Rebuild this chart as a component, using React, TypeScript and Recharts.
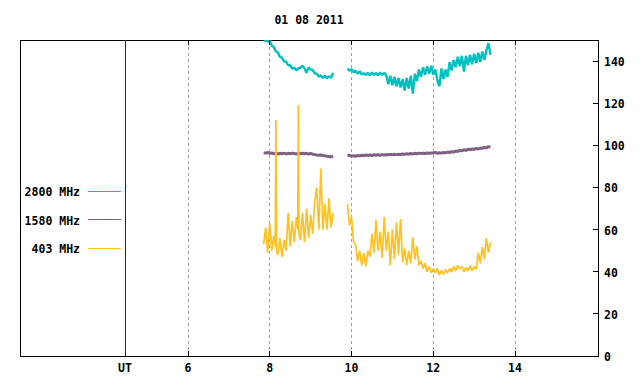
import React from "react";
import { LineChart, Line, XAxis, YAxis, ReferenceLine, ReferenceArea } from "recharts";

const TITLE = "01 08 2011";

// UT hours, gap row (null values) at 9.70
const hours = [
  7.85, 7.9, 7.95, 8.0, 8.05, 8.1, 8.135, 8.15, 8.165, 8.2, 8.25, 8.3, 8.35, 8.4, 8.45, 8.5, 8.55,
  8.6, 8.65, 8.685, 8.7, 8.715, 8.75, 8.8, 8.85, 8.9, 8.95, 9.0, 9.05, 9.1, 9.15, 9.2, 9.25, 9.3,
  9.35, 9.4, 9.45, 9.5, 9.55,
  9.7,
  9.9, 9.95, 10.0, 10.05, 10.1, 10.15, 10.2, 10.25, 10.3, 10.35, 10.4, 10.45, 10.5, 10.55, 10.6,
  10.65, 10.7, 10.75, 10.8, 10.85, 10.9, 10.95, 11.0, 11.05, 11.1, 11.15, 11.2, 11.25, 11.3, 11.35,
  11.4, 11.45, 11.5, 11.55, 11.6, 11.65, 11.7, 11.75, 11.8, 11.85, 11.9, 11.95, 12.0, 12.05, 12.1,
  12.15, 12.2, 12.25, 12.3, 12.35, 12.4, 12.45, 12.5, 12.55, 12.6, 12.65, 12.7, 12.75, 12.8, 12.85,
  12.9, 12.95, 13.0, 13.05, 13.1, 13.15, 13.2, 13.25, 13.3, 13.35, 13.4,
];

const mhz2800 = [
  149.6, 150, 149.2, 149.6, 147.2, 146.8, 145.0, 144.6, 144.4, 144.0, 142.0, 141.6, 139.8, 139.8,
  138.0, 138.0, 136.4, 136.8, 135.6, 136.2, 136.6, 136.6, 136.8, 137.8, 136.6, 134.4, 137.0, 136.0,
  135.8, 134.2, 134.0, 132.6, 133.2, 132.0, 133.0, 131.8, 132.8, 132.0, 134.4,
  null,
  136.5, 135.4, 136.2, 134.6, 135.4, 134.0, 135.2, 133.6, 134.2, 133.4, 134.4, 133.2, 134.6, 133.4,
  134.4, 133.2, 134.6, 133.4, 134.4, 133.2, 129.0, 133.0, 128.5, 132.5, 128.0, 132.0, 127.5, 131.5,
  126.0, 132.0, 127.0, 133.0, 124.5, 134.0, 130.5, 136.0, 132.5, 137.0, 133.5, 137.5, 134.0, 137.8,
  133.5, 136.0, 131.0, 128.0, 136.5, 131.5, 136.0, 132.5, 139.5, 135.5, 140.5, 137.0, 142.0, 137.5,
  142.5, 135.0, 142.5, 138.0, 143.0, 138.5, 143.5, 139.0, 144.0, 139.5, 144.5, 140.5, 145.0, 148.5,
  143.0,
];

const mhz1580 = [
  96.5, 96.3, 96.6, 96.2, 96.4, 96.0, 96.1, 96.3, 96.2, 95.9, 96.2, 96.0, 96.3, 95.9, 96.2, 96.0,
  96.3, 96.1, 95.9, 96.1, 96.2, 96.1, 96.0, 96.3, 96.0, 96.2, 95.9, 96.1, 95.8, 95.6, 95.4, 95.3,
  95.4, 95.2, 95.0, 94.8, 94.7, 94.5, 94.9,
  null,
  95.4, 95.2, 94.9, 95.1, 94.8, 95.2, 95.0, 95.3, 95.1, 95.4, 95.2, 95.4, 95.2, 95.5, 95.3, 95.5,
  95.3, 95.6, 95.4, 95.6, 95.5, 95.7, 95.5, 95.8, 95.6, 95.8, 95.6, 95.9, 95.7, 96.0, 95.8, 96.1,
  95.9, 96.2, 96.0, 96.3, 96.1, 96.3, 96.1, 96.4, 96.2, 96.4, 96.3, 96.7, 96.2, 96.5, 96.3, 96.6,
  96.5, 96.8, 96.6, 97.0, 96.8, 97.3, 97.1, 97.6, 97.4, 97.9, 97.6, 98.1, 97.9, 98.3, 98.1, 98.5,
  98.3, 98.7, 98.6, 99.0, 98.8, 99.4, 99.2,
];

const mhz403 = [
  53, 61, 49, 63, 50, 57, 52, 112, 50, 48, 56, 47, 55, 50, 68, 52, 64, 54, 66, 60, 119, 58, 55, 68,
  54, 70, 56, 67, 58, 73, 80, 60, 89, 60, 72, 60, 75, 61, 68,
  null,
  72, 62, 66, 54, 53, 45, 50, 43, 49, 42.5, 50, 47, 58, 49, 64.5, 50, 59, 46.5, 66, 50, 59, 43, 60,
  46, 63.5, 48, 65, 44.5, 51, 43, 50, 44, 56.5, 46, 52, 43, 45, 41.5, 44, 40, 42.5, 39.5, 41.5, 39.5,
  41.5, 38.5, 40.5, 38.8, 41, 39.5, 41.5, 40, 42.5, 40.5, 43, 41.5, 42.5, 40, 42, 40.5, 42.8, 40.5,
  42.5, 41, 49, 44, 51.7, 46, 56, 49, 54,
];

const xTicks = [6, 8, 10, 12, 14];
const utMark = 4.46;
const yTicks = [0, 20, 40, 60, 80, 100, 120, 140];
const xDomain: [number, number] = [1.89, 16.03];
const yDomain: [number, number] = [0, 150];

const series = [
  { key: "f2800", label: "2800 MHz", color: "#00c0c0", width: 2.4 },
  { key: "f1580", label: "1580 MHz", color: "#806080", width: 3 },
  { key: "f403", label: "403 MHz", color: "#ffc020", width: 1.7 },
];

const rows = hours.map((t, i) => ({
  t,
  f2800: mhz2800[i],
  f1580: mhz1580[i],
  f403: mhz403[i],
}));

const W = 640;
const H = 384;
const PLOT_LEFT = 20;
const PLOT_RIGHT = 598;
const PLOT_TOP = 40;
const PLOT_BOTTOM = 356;

const font = {
  fontFamily: "'DejaVu Sans Mono', 'Liberation Mono', monospace",
  fontWeight: 700,
  fontSize: 11.5,
};

const XTick = (props: any) => {
  const { x, payload } = props;
  if (payload.value === utMark) {
    return (
      <text x={x} y={368} textAnchor="middle" dominantBaseline="central" fill="#000" style={font}>
        UT
      </text>
    );
  }
  return (
    <g shapeRendering="crispEdges">
      <line x1={x} x2={x} y1={PLOT_BOTTOM} y2={PLOT_BOTTOM - 5} stroke="#000" />
      <line x1={x} x2={x} y1={PLOT_TOP} y2={PLOT_TOP + 5} stroke="#000" />
      <text x={x} y={368} textAnchor="middle" dominantBaseline="central" fill="#000" style={font}>
        {payload.value}
      </text>
    </g>
  );
};

const YTick = (props: any) => {
  const { y, payload } = props;
  return (
    <g shapeRendering="crispEdges">
      <line x1={PLOT_RIGHT - 5} x2={PLOT_RIGHT} y1={y} y2={y} stroke="#000" />
      <text x={PLOT_RIGHT + 6} y={y + 1} dominantBaseline="central" fill="#000" style={font}>
        {payload.value}
      </text>
    </g>
  );
};

export default function App() {
  return (
    <div style={{ position: "absolute", left: 0, top: 0, width: W, height: H, background: "#fff" }}>
      <LineChart
        width={W}
        height={H}
        data={rows}
        margin={{ top: PLOT_TOP, right: 0, bottom: 0, left: PLOT_LEFT }}
      >
        <XAxis
          dataKey="t"
          type="number"
          domain={xDomain}
          ticks={[utMark, ...xTicks]}
          interval={0}
          allowDataOverflow
          axisLine={false}
          tickLine={false}
          tick={<XTick />}
          height={H - PLOT_BOTTOM}
        />
        <YAxis
          orientation="right"
          domain={yDomain}
          ticks={yTicks}
          interval={0}
          allowDataOverflow
          axisLine={false}
          tickLine={false}
          tick={<YTick />}
          width={W - PLOT_RIGHT}
        />
        {xTicks.map((v) => (
          <ReferenceLine key={v} x={v} stroke="#a0a0a0" strokeDasharray="3 3" shapeRendering="crispEdges" />
        ))}
        <ReferenceLine x={utMark} stroke="#800000" shapeRendering="crispEdges" />
        <ReferenceArea
          x1={xDomain[0]}
          x2={xDomain[1]}
          y1={yDomain[0]}
          y2={yDomain[1]}
          fill="none"
          fillOpacity={0}
          stroke="#000"
          strokeOpacity={1}
          shapeRendering="crispEdges"
        />
        {series.map((s) => (
          <Line
            key={s.key}
            type="linear"
            dataKey={s.key}
            stroke={s.color}
            strokeWidth={s.width}
            strokeLinejoin="bevel"
            dot={false}
            activeDot={false}
            connectNulls={false}
            isAnimationActive={false}
          />
        ))}
      </LineChart>
      <svg
        width={W}
        height={H}
        style={{ position: "absolute", left: 0, top: 0, pointerEvents: "none" }}
      >
        <text x={(PLOT_LEFT + PLOT_RIGHT) / 2} y={20} textAnchor="middle" dominantBaseline="central" fill="#000" style={font}>
          {TITLE}
        </text>
        {series.map((s, i) => {
          const y = 191 + i * 28.6;
          return (
            <g key={s.key} shapeRendering="crispEdges">
              <text x={80} y={y + 1} textAnchor="end" dominantBaseline="central" fill="#000" style={font}>
                {s.label}
              </text>
              <line x1={88} x2={121} y1={y} y2={y} stroke={s.color} strokeWidth={1} />
            </g>
          );
        })}
      </svg>
    </div>
  );
}
